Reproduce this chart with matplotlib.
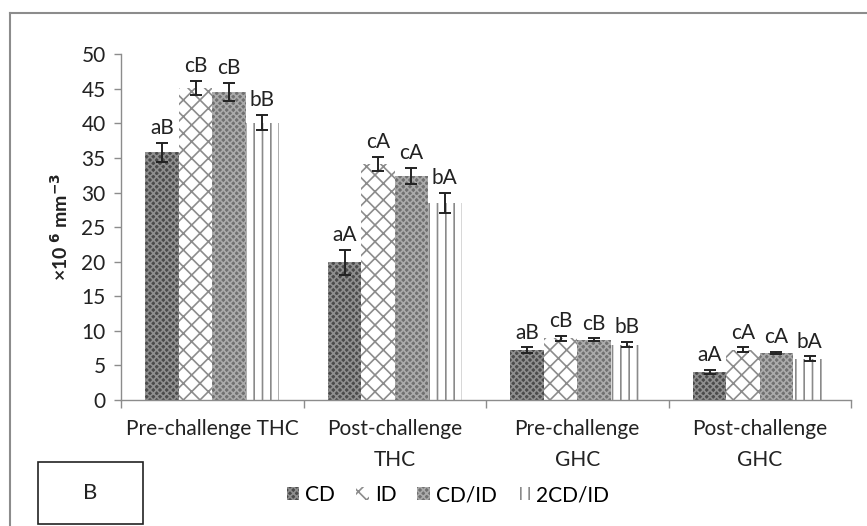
import matplotlib
matplotlib.use("Agg")
import matplotlib.pyplot as plt
import numpy as np
from matplotlib.patches import Patch, Rectangle
from matplotlib.lines import Line2D

plt.rcParams['font.family'] = ['Lato', 'DejaVu Sans']
plt.rcParams['hatch.linewidth'] = 1.2

categories = ["Pre-challenge THC", "Post-challenge\nTHC", "Pre-challenge\nGHC", "Post-challenge\nGHC"]
series = ["CD", "ID", "CD/ID", "2CD/ID"]
values = {
    "CD":     [35.8, 19.9, 7.2, 4.0],
    "ID":     [45.1, 34.1, 8.9, 7.3],
    "CD/ID":  [44.5, 32.4, 8.7, 6.8],
    "2CD/ID": [40.1, 28.5, 8.0, 6.0],
}
errors = {
    "CD":     [1.4, 1.8, 0.4, 0.3],
    "ID":     [1.0, 1.0, 0.4, 0.3],
    "CD/ID":  [1.3, 1.2, 0.2, 0.2],
    "2CD/ID": [1.1, 1.5, 0.4, 0.3],
}
letters = {
    "CD":     ["aB", "aA", "aB", "aA"],
    "ID":     ["cB", "cA", "cB", "cA"],
    "CD/ID":  ["cB", "cA", "cB", "cA"],
    "2CD/ID": ["bB", "bA", "bB", "bA"],
}
yticks = [0, 5, 10, 15, 20, 25, 30, 35, 40, 45, 50]

styles = {
    "CD":     dict(facecolor='#4a4a4a', edgecolor='#8e8e8e', hatch='xxxxx'),
    "ID":     dict(facecolor='white', edgecolor='#8c8c8c', hatch='xx'),
    "CD/ID":  dict(facecolor='#707070', edgecolor='#aaaaaa', hatch='xxxxx'),
    "2CD/ID": dict(facecolor='white', edgecolor='#8a8a8a', hatch='||'),
}

FS = 15
fig = plt.figure(figsize=(8.67, 5.26), dpi=100)
ax = fig.add_axes([121/867, 1-400/526, (851-121)/867, (400-54.3)/526])

x = np.arange(len(categories))
w = 0.183
for i, s in enumerate(series):
    pos = x + (i - 1.5) * w
    ax.bar(pos, values[s], width=w, linewidth=0, **styles[s], zorder=2)
    ax.errorbar(pos, values[s], yerr=errors[s], fmt='none', ecolor='#222222',
                elinewidth=1.4, capsize=4, capthick=1.4, zorder=3)
    for p, v, e, t in zip(pos, values[s], errors[s], letters[s]):
        ax.text(p, v + e + 0.7, t, ha='center', va='bottom', fontsize=FS, color='#222222')

ax.set_xlim(-0.5, len(categories) - 0.5)
ax.set_ylim(0, 50)
ax.set_yticks(yticks)
ax.tick_params(axis='y', labelsize=FS, length=5, color='#8c8c8c', width=1, labelcolor='#222222', pad=6)
ax.set_xticks(x)
ax.set_xticklabels(categories, fontsize=FS, color='#222222', linespacing=1.65)
ax.tick_params(axis='x', length=0, pad=14)
ax.set_xticks(np.arange(-0.5, len(categories)), minor=True)
ax.tick_params(axis='x', which='minor', length=6, color='#8c8c8c', width=1)
for sp in ['top', 'right']:
    ax.spines[sp].set_visible(False)
for sp in ['left', 'bottom']:
    ax.spines[sp].set_color('#8c8c8c')
    ax.spines[sp].set_linewidth(1)

ax.set_ylabel('×10 $^{\\mathbf{6}}$ mm$^{\\mathbf{-3}}$', fontsize=14, fontweight='bold', color='#222222', labelpad=8)

handles = [Patch(linewidth=0, **styles[s]) for s in series]
fig.legend(handles, series, loc='center', bbox_to_anchor=(448/867, 1-495/526), ncol=4,
           frameon=False, fontsize=FS, handlelength=0.6, handleheight=0.6,
           handletextpad=0.3, columnspacing=1.0)

# outer chart frame (left and top visible)
fig.add_artist(Line2D([10/867, 10/867], [0, 1-13/526], color='#8c8c8c', linewidth=1.5, transform=fig.transFigure))
fig.add_artist(Line2D([10/867, 1], [1-13/526, 1-13/526], color='#8c8c8c', linewidth=1.5, transform=fig.transFigure))

# panel label box
fig.add_artist(Rectangle((38/867, 1-524/526), 105/867, 62/526, fill=False, edgecolor='#222222',
                         linewidth=1.2, transform=fig.transFigure))
fig.text(90/867, 1-493/526, 'B', ha='center', va='center', fontsize=16, color='#222222')

fig.savefig('out.png', dpi=100)
